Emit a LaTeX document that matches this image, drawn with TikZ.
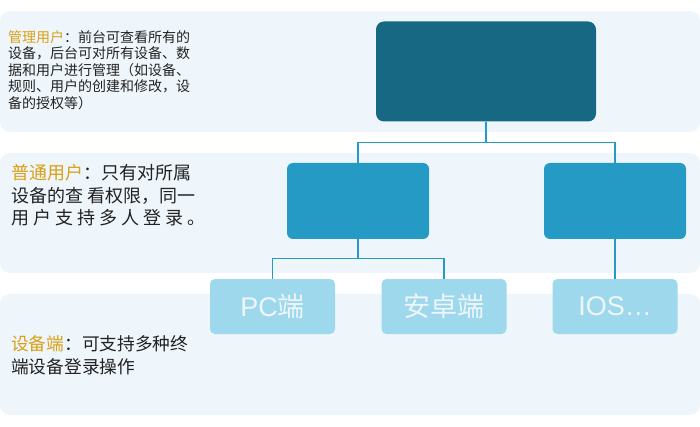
\documentclass[tikz,border=0pt]{standalone}
\usepackage{fontspec}
\newfontfamily\cjk{Noto Sans CJK SC}
\newfontfamily\latn{Liberation Sans}
\definecolor{bandbg}{HTML}{EEF6FC}
\definecolor{darkbox}{HTML}{176882}
\definecolor{midbox}{HTML}{259AC4}
\definecolor{endbox}{HTML}{9DD8EC}
\definecolor{endtxt}{HTML}{EEF6F9}
\definecolor{lbl}{HTML}{D9A013}
\definecolor{txt}{HTML}{222222}
\begin{document}
\begin{tikzpicture}[x=1pt,y=-1pt,
  band/.style={fill=bandbg, rounded corners=10pt},
  conn/.style={draw=midbox, line width=1.2pt},
  rolebox/.style={inner sep=0, minimum width=142pt, minimum height=76pt, fill=midbox, rounded corners=6pt},
  termbox/.style={inner sep=0, minimum width=125pt, minimum height=55pt, fill=endbox, rounded corners=5pt, text=endtxt, font=\cjk\fontsize{27}{30}\selectfont},
  note/.style={anchor=north west, align=left, inner sep=0, text=txt}]
\useasboundingbox (0,0) rectangle (700,427);
\fill[band] (0,11) rectangle (700,132);
\fill[band] (0,153) rectangle (700,273);
\fill[band] (0,294) rectangle (700,415);
\node[inner sep=0, minimum width=220pt, minimum height=100pt, fill=darkbox, rounded corners=8pt] (admin) at (486,71.5) {};
\node[rolebox] (user) at (358,201) {};
\node[rolebox] (userr) at (615,201) {};
\node[termbox] (pc) at (272.5,306.5) {{\latn PC}端};
\node[termbox] (android) at (444,306.5) {安卓端};
\node[termbox] (ios) at (615,306.5) {\latn IOS…};
\draw[conn] (admin.south) -- ++(0,20.5) -| (user.north);
\draw[conn] (admin.south) -- ++(0,20.5) -| (userr.north);
\draw[conn] (user.south) -- ++(0,19) -| (pc.north);
\draw[conn] (user.south) -- ++(0,19) -| (android.north);
\draw[conn] (userr.south) -- (ios.north);
\node[note, font=\cjk\fontsize{14}{16.5}\selectfont] (admintxt) at (8,30) {\textcolor{lbl}{管理用户}：前台可查看所有的\\设备，后台可对所有设备、数\\据和用户进行管理（如设备、\\规则、用户的创建和修改，设\\备的授权等）};
\node[note, font=\cjk\fontsize{18}{22.5}\selectfont] (usertxt) at (11,164.5) {\textcolor{lbl}{普通用户}：只有对所属\\设备的查 看权限，同一\\用 户 支 持 多 人 登 录 。};
\node[note, font=\cjk\fontsize{17.7}{23}\selectfont] (devtxt) at (11,335) {\textcolor{lbl}{设备端}：可支持多种终\\端设备登录操作};
\end{tikzpicture}
\end{document}
